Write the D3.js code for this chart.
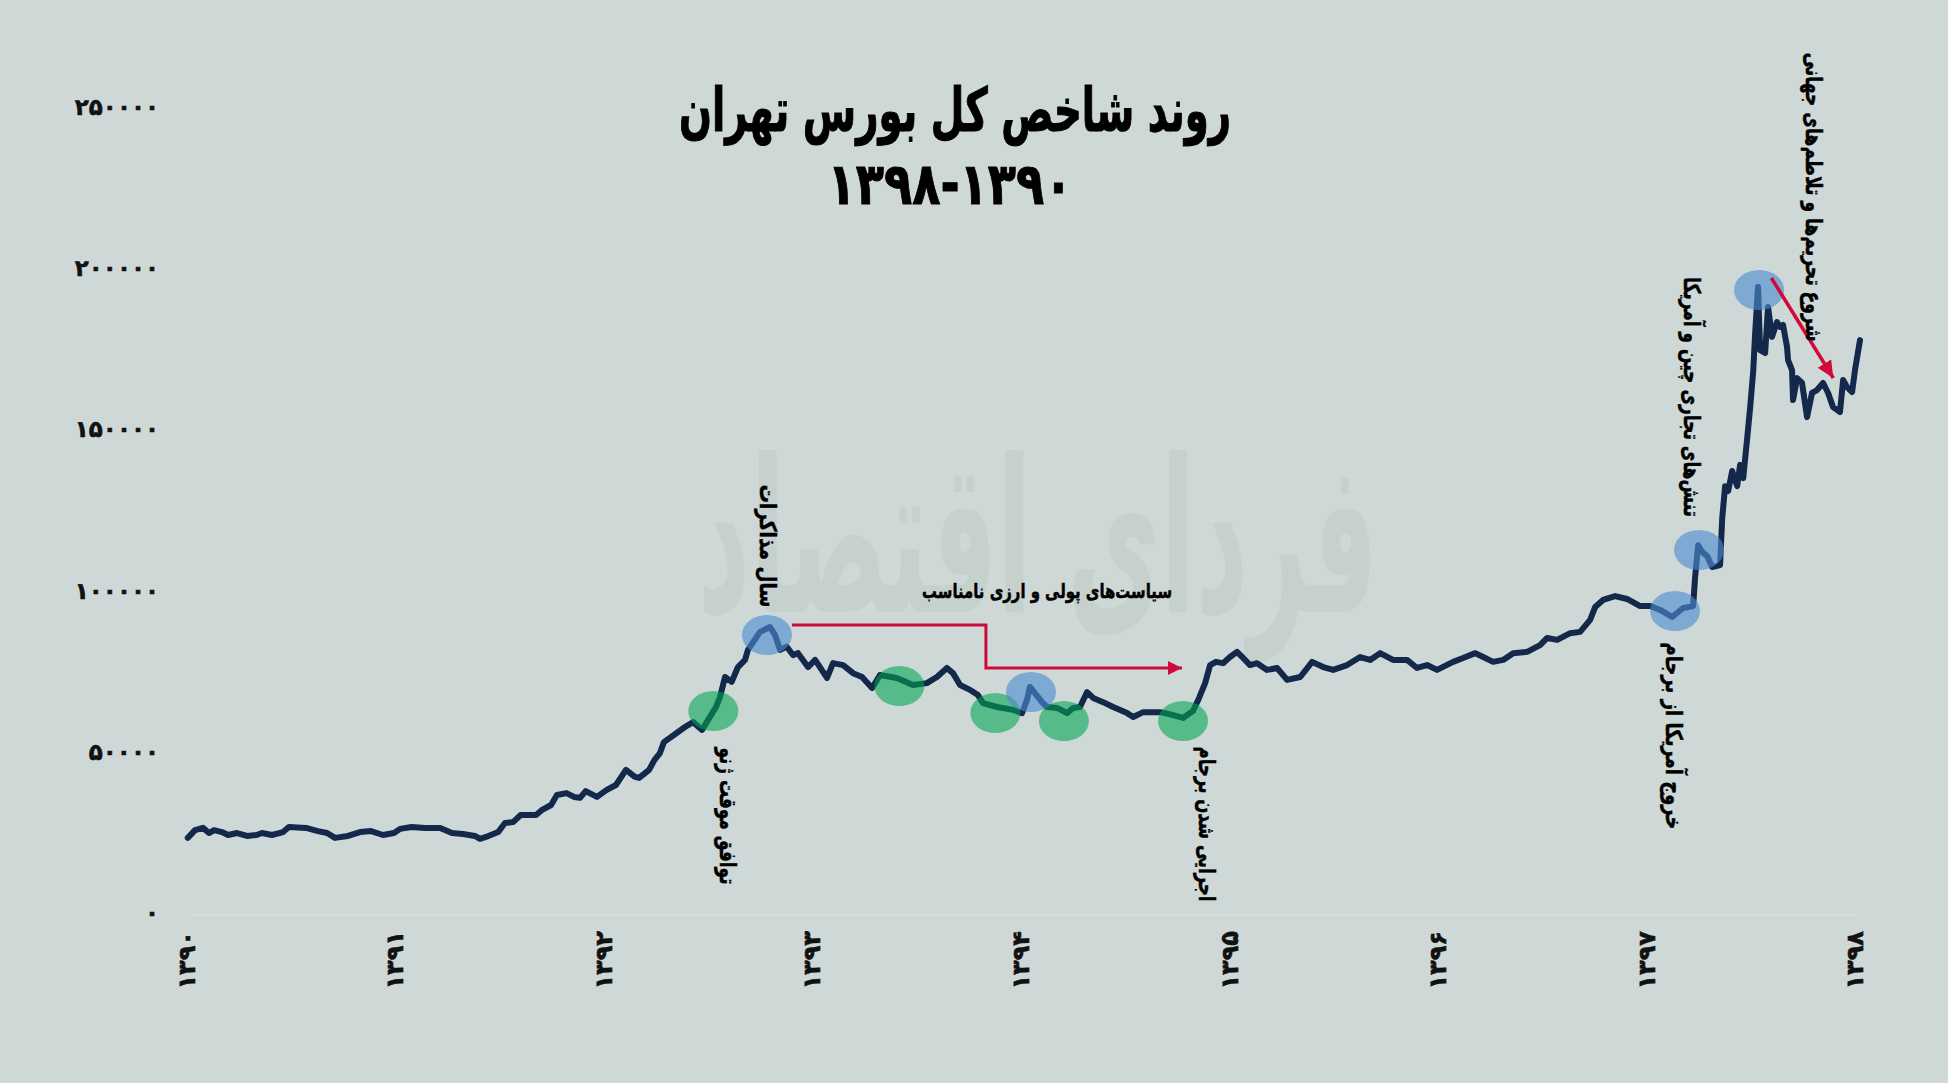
<!DOCTYPE html>
<html><head><meta charset="utf-8">
<script src="https://cdn.jsdelivr.net/npm/d3@7"></script>
<style>html,body{margin:0;padding:0;background:#ced9d7;}svg{display:block}</style>
</head><body>
<svg id="c" width="1948" height="1083"></svg>
<script>
// ---- data ----
const dates = [
1390.007,1390.042,1390.080,1390.109,1390.133,1390.171,1390.200,1390.243,1390.291,1390.337,1390.363,1390.411,1390.464,1390.492,1390.574,1390.631,1390.675,1390.713,1390.775,1390.833,1390.886,1390.943,1390.996,
1391.025,1391.080,1391.145,1391.217,1391.274,1391.327,1391.384,1391.408,1391.437,1391.495,1391.528,1391.567,1391.603,1391.677,1391.704,1391.749,1391.777,1391.823,1391.859,1391.888,1391.915,1391.969,
1392.016,1392.060,1392.108,1392.151,1392.171,1392.219,1392.245,1392.271,1392.290,1392.338,1392.391,1392.430,1392.473,1392.502,1392.540,1392.559,
1392.583,1392.615,1392.645,1392.679,1392.693,1392.751,1392.799,1392.823,1392.847,1392.879,1392.909,1392.933,1392.981,
1393.015,1393.072,1393.101,1393.149,1393.197,1393.240,1393.288,1393.326,1393.407,1393.484,1393.551,1393.599,1393.647,1393.676,1393.710,1393.758,1393.796,1393.820,1393.887,1393.964,
1394.007,1394.031,1394.045,1394.069,1394.103,1394.127,1394.175,1394.223,1394.252,1394.285,1394.319,1394.348,1394.396,1394.444,1394.511,1394.540,1394.588,1394.669,1394.731,1394.779,1394.827,
1394.856,1394.885,1394.909,1394.937,1394.971,
1395.004,1395.038,1395.067,1395.100,1395.134,1395.182,1395.230,1395.278,1395.341,1395.398,1395.451,1395.499,1395.566,1395.628,1395.676,1395.724,1395.786,1395.853,1395.901,1395.949,1395.997,
1396.074,1396.122,1396.180,1396.218,1396.266,1396.314,1396.362,1396.429,1396.491,1396.525,1396.573,1396.635,1396.683,1396.731,1396.755,1396.793,1396.851,1396.908,1396.971,
1397.019,1397.067,1397.124,1397.177,1397.225,1397.234,1397.249,1397.268,1397.292,1397.316,1397.354,1397.364,1397.378,1397.393,1397.412,1397.436,1397.450,1397.465,1397.484,1397.498,1397.513,1397.522,1397.536,
1397.546,1397.570,1397.584,1397.603,1397.627,1397.642,1397.656,1397.675,1397.680,1397.699,1397.704,1397.723,1397.747,1397.771,1397.795,1397.819,1397.848,1397.872,1397.896,1397.929,1397.944,1397.963,1397.987,
1398.001,1398.025
];
const indexValues = [
23300,25700,26400,24800,25700,25100,24200,24800,23900,24200,24800,24200,25100,26700,26400,25400,24800,23300,23900,25100,25400,24200,24800,
26100,26700,26400,26400,24800,24500,23900,23000,23600,25100,27900,28200,30400,30400,31900,33500,36600,37200,36000,35700,37800,36000,
38200,39700,44400,42200,41900,44400,47500,49600,53000,55200,57700,59200,56800,59900,63900,67000,
73200,71700,76300,78500,81600,87200,88700,86200,81600,82600,80000,80600,76300,
78500,72900,77500,76900,74400,73200,69800,73800,72900,70700,71300,73200,76000,74400,70700,69200,67600,65100,63900,63000,
62000,66100,70100,68200,65400,63900,63600,62000,63600,63900,68500,66700,65400,63900,62000,60800,62300,62300,61400,60500,62700,
66700,71300,76900,77900,77500,
79400,81000,79100,76900,77500,75400,76000,72300,73200,77900,76300,75400,76900,79400,78500,80600,78500,78500,76000,76900,75400,
77900,79100,80600,79400,77900,78500,80600,81000,83100,85300,84700,86800,87200,90900,94900,97100,98300,97400,95200,
95200,94000,91800,94600,95200,103900,114100,112000,110700,107300,107900,122200,132400,130900,137100,132400,139000,134900,147300,156600,168100,179600,194200,
174600,173700,188000,178700,183300,181800,182400,175600,171500,168400,159100,165900,164400,153800,161300,162200,164400,161300,156900,155400,165300,163100,161600,
168400,177700
];
const xTicks = [1390,1391,1392,1393,1394,1395,1396,1397,1398];
const xTickLabels = ["۱۳۹۰","۱۳۹۱","۱۳۹۲","۱۳۹۳","۱۳۹۴","۱۳۹۵","۱۳۹۶","۱۳۹۷","۱۳۹۸"];
const yTicks = [0,50000,100000,150000,200000,250000];
const yTickLabels = ["۰","۵۰۰۰۰","۱۰۰۰۰۰","۱۵۰۰۰۰","۲۰۰۰۰۰","۲۵۰۰۰۰"];
const titleLines = ["روند شاخص کل بورس تهران","۱۳۹۸-۱۳۹۰"];
const watermark = "فردای اقتصاد";
// highlighted events (date, index)
const greenMarks = [[1392.527,62650],[1393.419,70400],[1393.879,62030],[1394.208,59550],[1394.779,59550]];
const blueMarks = [[1392.784,86230],[1394.050,68550],[1397.138,93670],[1397.253,112590],[1397.541,193240]];
// annotation texts: text, date / index at the text centre
const noteTexts = ["توافق موقت ژنو","سال مذاکرات","سیاست\u200cهای پولی و ارزی نامناسب","اجرایی شدن برجام","خروج آمریکا از برجام","تنش\u200cهای تجاری چین و آمریکا","شروع تحریم\u200cها و تلاطم\u200cهای جهانی"];
const noteDates = [1392.599,1392.790,1394.127,1394.894,1397.135,1397.221,1397.806];
const noteValues = [30090,113830,99870,27600,54900,160050,222080];
const noteVertical = [true,true,false,true,true,true,true];
const noteLengths = [137,123,250,155,187,240,289];
// arrows (date, index)
const arrowPolicy = [[1392.904,89330],[1393.834,89330],[1393.834,75990],[1394.774,75990]];
const arrowSanctions = [[1397.600,196960],[1397.897,165940]];

// ---- drawing ----
const svg = d3.select("#c");
const W = 1948, H = 1083;
const FONT = "DejaVu Sans";
svg.append("rect").attr("width",W).attr("height",H).attr("fill","#ced9d7");

const x = d3.scaleLinear().domain([1390,1398]).range([186.3,1854.8]);
const y = d3.scaleLinear().domain([0,250000]).range([913,107]);

// watermark
{
  const wm = svg.append("text").text(watermark)
    .attr("font-family",FONT).attr("font-weight","bold").attr("font-size",150)
    .attr("fill","#c6d1ce").attr("text-anchor","middle");
  const len = wm.node().getComputedTextLength();
  wm.attr("font-size", 150*680/len)
    .attr("transform","translate(1038,612) scale(1,2.1)");
}

// axis baseline
svg.append("line").attr("x1",x(1390)+3).attr("x2",x(1398)+3).attr("y1",y(0)+2).attr("y2",y(0)+2)
  .attr("stroke","#dcdcdc").attr("stroke-width",2);

// y tick labels
svg.append("g").selectAll("text").data(yTicks).join("text")
  .attr("x",159).attr("y",d=>y(d)).attr("dy","0.35em")
  .attr("text-anchor","end").attr("font-family",FONT).attr("font-weight","bold")
  .attr("font-size",23).attr("fill","#111").attr("stroke","#111").attr("stroke-width",0.6)
  .text((d,i)=>yTickLabels[i]);

// x tick labels
svg.append("g").selectAll("text").data(xTicks).join("text")
  .attr("transform",d=>`translate(${x(d)},931) rotate(-90)`)
  .attr("dy","0.35em")
  .attr("text-anchor","end").attr("font-family",FONT).attr("font-weight","bold")
  .attr("font-size",24).attr("fill","#111").attr("stroke","#111").attr("stroke-width",0.6)
  .text((d,i)=>xTickLabels[i]);

// title
svg.append("text").text(titleLines[0]).attr("x",955).attr("y",131)
  .attr("text-anchor","middle")
  .attr("font-family",FONT).attr("font-weight","bold").attr("font-size",60).attr("fill","#000")
  .attr("stroke","#000").attr("stroke-width",1.2)
  .attr("textLength",552).attr("lengthAdjust","spacingAndGlyphs");
svg.append("text").text(titleLines[1]).attr("x",950).attr("y",204)
  .attr("text-anchor","middle")
  .attr("font-family",FONT).attr("font-weight","bold").attr("font-size",58).attr("fill","#000")
  .attr("stroke","#000").attr("stroke-width",1)
  .attr("textLength",245).attr("lengthAdjust","spacingAndGlyphs");

// index line
const pts = dates.map((d,i)=>[d,indexValues[i]]);
svg.append("path").datum(pts)
  .attr("d", d3.line().x(d=>x(d[0])).y(d=>y(d[1])))
  .attr("fill","none").attr("stroke","#13284a").attr("stroke-width",6)
  .attr("stroke-linejoin","round").attr("stroke-linecap","round");

// highlight ellipses
svg.append("g").selectAll("ellipse").data(greenMarks).join("ellipse")
  .attr("cx",d=>x(d[0])).attr("cy",d=>y(d[1])).attr("rx",25).attr("ry",20)
  .attr("fill","#00a651").attr("fill-opacity",0.58);
svg.append("g").selectAll("ellipse").data(blueMarks).join("ellipse")
  .attr("cx",d=>x(d[0])).attr("cy",d=>y(d[1])).attr("rx",25).attr("ry",20)
  .attr("fill","#4d8ad0").attr("fill-opacity",0.62);

// arrows
const defs = svg.append("defs");
defs.append("marker").attr("id","ah1").attr("markerUnits","userSpaceOnUse")
  .attr("markerWidth",16).attr("markerHeight",14).attr("refX",14).attr("refY",7).attr("orient","auto")
  .append("path").attr("d","M0,0 L14,7 L0,14 Z").attr("fill","#cf0a3a");
defs.append("marker").attr("id","ah2").attr("markerUnits","userSpaceOnUse")
  .attr("markerWidth",20).attr("markerHeight",16).attr("refX",17).attr("refY",8).attr("orient","auto")
  .append("path").attr("d","M0,0 L17,8 L0,16 Z").attr("fill","#cf0a3a");
const aline = d3.line().x(d=>x(d[0])).y(d=>y(d[1]));
svg.append("path").datum(arrowPolicy).attr("d",aline).attr("fill","none")
  .attr("stroke","#cf0a3a").attr("stroke-width",3).attr("marker-end","url(#ah1)");
svg.append("path").datum(arrowSanctions).attr("d",aline).attr("fill","none")
  .attr("stroke","#cf0a3a").attr("stroke-width",3.5).attr("marker-end","url(#ah2)");

// annotations
noteTexts.forEach((txt,i)=>{
  const cx = x(noteDates[i]), cy = y(noteValues[i]);
  svg.append("text").text(txt)
    .attr("font-family",FONT).attr("font-weight","bold").attr("font-size",noteVertical[i]?23:20)
    .attr("fill","#000").attr("stroke","#000").attr("stroke-width",0.5)
    .attr("text-anchor","middle").attr("dominant-baseline","central")
    .attr("textLength",noteLengths[i]).attr("lengthAdjust","spacingAndGlyphs")
    .attr("transform", noteVertical[i] ? `translate(${cx},${cy}) rotate(90)` : `translate(${cx},${cy})`);
});
</script>
</body></html>
